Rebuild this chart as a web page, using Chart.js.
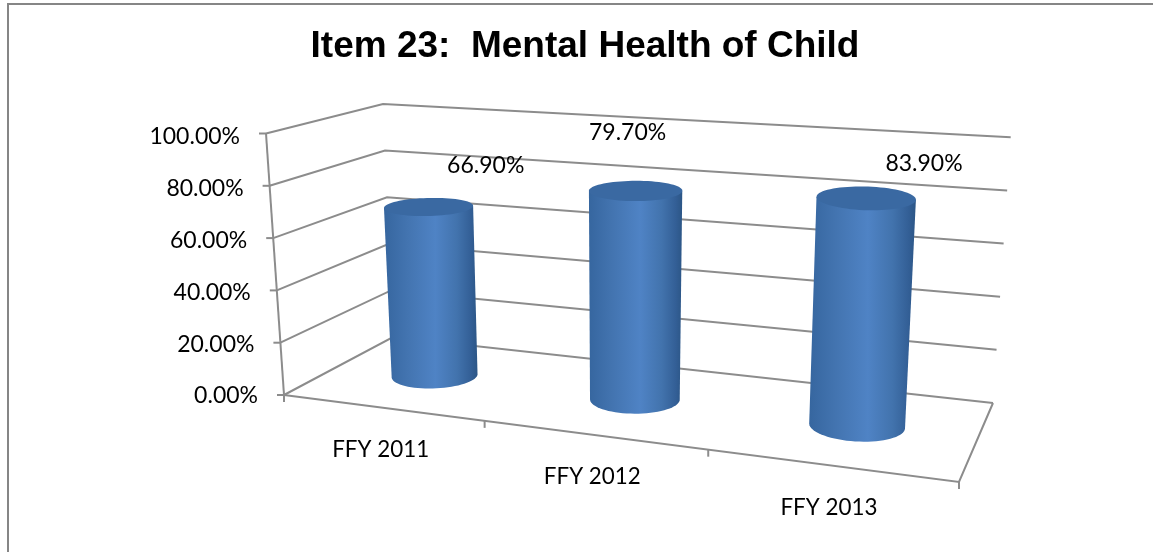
<!DOCTYPE html>
<html>
<head>
<meta charset="utf-8">
<title>Item 23: Mental Health of Child</title>
<script src="https://cdn.jsdelivr.net/npm/chart.js@4/dist/chart.umd.js"></script>
<style>
  html, body { margin: 0; padding: 0; background: #fff; }
  canvas { display: block; }
</style>
</head>
<body>
<canvas id="chart" width="1153" height="552"></canvas>
<script>
const chartTitle = 'Item 23:  Mental Health of Child';
const categories = ['FFY 2011', 'FFY 2012', 'FFY 2013'];
const percentValues = [66.9, 79.7, 83.9];
const axisMax = 100;
const axisStep = 20;

const lineColor = '#8c8c8c';
const valueFont = '23px Lato';
const categoryFont = '22.4px Lato';

// ── Perspective box ───────────────────────────────────────────
// Floor corners on the page, and how far 100% rises at each corner
const FL = [284, 395], FR = [959, 482], BR = [993, 403], BL = [393, 337];
const upFL = [-18, -261.5], upFR = [14, -286], upBR = [17.7, -265.7], upBL = [-10, -233];

const dx1 = [FR[0] - BR[0], FR[1] - BR[1]];
const dx2 = [BL[0] - BR[0], BL[1] - BR[1]];
const sum = [FL[0] - FR[0] + BR[0] - BL[0], FL[1] - FR[1] + BR[1] - BL[1]];
const det = dx1[0] * dx2[1] - dx1[1] * dx2[0];
const g = (sum[0] * dx2[1] - sum[1] * dx2[0]) / det;
const h = (dx1[0] * sum[1] - dx1[1] * sum[0]) / det;

// u: along the category axis, d: depth front to back, v: 0..1 of the value axis
function project(u, d, v) {
  const w = g * u + h * d + 1;
  const out = [0, 1].map(i => {
    const a = FR[i] - FL[i] + g * FR[i];
    const b = BL[i] - FL[i] + h * BL[i];
    const floor = (a * u + b * d + FL[i]) / w;
    const up = (1 - u) * (1 - d) * upFL[i] + u * (1 - d) * upFR[i] + u * d * upBR[i] + (1 - u) * d * upBL[i];
    return floor + up * v;
  });
  return { x: out[0], y: out[1] };
}

function strokePath(ctx, pts) {
  ctx.beginPath();
  pts.forEach((p, i) => i ? ctx.lineTo(p.x, p.y) : ctx.moveTo(p.x, p.y));
  ctx.stroke();
}

function drawCylinder(ctx, u, ru, v) {
  const depth = 0.5, rd = 0.2;
  const ring = (height) => {
    const pts = [];
    for (let i = 0; i < 72; i++) {
      const t = i / 72 * Math.PI * 2;
      pts.push(project(u + ru * Math.cos(t), depth + rd * Math.sin(t), height));
    }
    return pts;
  };
  const bottom = ring(0), top = ring(v);
  const extreme = (pts, dir) => pts.reduce((m, p, i) => (p.x - pts[m].x) * dir > 0 ? i : m, 0);

  const bl = extreme(bottom, -1), br = extreme(bottom, 1);
  const tl = extreme(top, -1), tr = extreme(top, 1);

  ctx.beginPath();
  ctx.moveTo(top[tl].x, top[tl].y);
  ctx.lineTo(bottom[bl].x, bottom[bl].y);
  // front arc of the base: lower screen y-side of the ring
  const n = bottom.length;
  const nextIdx = bottom[(bl + 1) % n].y > bottom[(bl + n - 1) % n].y ? 1 : n - 1;
  for (let i = bl; i !== br; i = (i + nextIdx) % n) ctx.lineTo(bottom[i].x, bottom[i].y);
  ctx.lineTo(bottom[br].x, bottom[br].y);
  ctx.lineTo(top[tr].x, top[tr].y);
  ctx.closePath();

  const left = Math.min(top[tl].x, bottom[bl].x);
  const right = Math.max(top[tr].x, bottom[br].x);
  const body = ctx.createLinearGradient(left, 0, right, 0);
  body.addColorStop(0, '#36669f');
  body.addColorStop(0.25, '#4374b0');
  body.addColorStop(0.55, '#4f83c5');
  body.addColorStop(0.78, '#4273ad');
  body.addColorStop(0.93, '#335f96');
  body.addColorStop(1, '#2c5686');
  ctx.fillStyle = body;
  ctx.fill();

  ctx.beginPath();
  top.forEach((p, i) => i ? ctx.lineTo(p.x, p.y) : ctx.moveTo(p.x, p.y));
  ctx.closePath();
  ctx.fillStyle = '#3a69a2';
  ctx.fill();
}

const labelShift = [[57, -41], [-8, -58], [58, -34]];

const box3d = {
  id: 'box3d',
  beforeDraw(chart) {
    const { ctx, width, height } = chart;
    ctx.save();
    ctx.strokeStyle = '#868686';
    ctx.lineWidth = 2;
    ctx.beginPath();
    ctx.moveTo(8, height);
    ctx.lineTo(8, 4);
    ctx.lineTo(width, 4);
    ctx.stroke();
    ctx.restore();
  },
  beforeDatasetsDraw(chart) {
    const { ctx, scales } = chart;
    ctx.save();
    ctx.strokeStyle = lineColor;
    ctx.lineWidth = 2;
    ctx.lineJoin = 'miter';

    // walls
    scales.y.ticks.forEach(t => {
      const v = t.value / axisMax;
      const a = project(0, 0, v), b = project(0, 1, v), c = project(1, 1, v);
      strokePath(ctx, [a, b, c]);
      strokePath(ctx, [a, { x: a.x - 7, y: a.y }]);
    });
    strokePath(ctx, [project(0, 0, 1), project(0, 0, 0)]);

    // floor front and side
    strokePath(ctx, [project(0, 0, 0), project(1, 0, 0), project(1, 1, 0)]);
    for (let i = 0; i <= categories.length; i++) {
      const p = project(i / categories.length, 0, 0);
      strokePath(ctx, [p, { x: p.x, y: p.y + 7 }]);
    }

    // axis text follows the slanted edge
    ctx.fillStyle = '#000';
    ctx.font = valueFont;
    ctx.textBaseline = 'middle';
    ctx.textAlign = 'right';
    scales.y.ticks.forEach(t => {
      const p = project(0, 0, t.value / axisMax);
      ctx.fillText(t.label, p.x - 26, scales.y.getPixelForValue(t.value));
    });
    ctx.font = categoryFont;
    ctx.textAlign = 'center';
    categories.forEach((c, i) => {
      const p = project((i + 0.5) / categories.length, 0, 0);
      ctx.fillText(c, p.x - 1, p.y + 42);
    });
    ctx.restore();
  },
  afterDatasetsDraw(chart) {
    const { ctx, chartArea, scales } = chart;
    const bars = chart.getDatasetMeta(0).data;
    ctx.save();
    bars.forEach((bar, i) => {
      const u = (bar.x - chartArea.left) / chartArea.width;
      const ru = bar.width / 2 / chartArea.width;
      const v = (scales.y.bottom - bar.y) / (scales.y.bottom - scales.y.top);
      drawCylinder(ctx, u, ru, v);
    });
    ctx.fillStyle = '#000';
    ctx.font = valueFont;
    ctx.textAlign = 'center';
    ctx.textBaseline = 'middle';
    bars.forEach((bar, i) => {
      const u = (bar.x - chartArea.left) / chartArea.width;
      const v = (scales.y.bottom - bar.y) / (scales.y.bottom - scales.y.top);
      const p = project(u, 0.5, v);
      ctx.fillText(percentValues[i].toFixed(2) + '%', p.x + labelShift[i][0], p.y + labelShift[i][1]);
    });
    ctx.restore();
  },
};

new Chart(document.getElementById('chart'), {
  type: 'bar',
  data: {
    labels: categories,
    datasets: [{
      data: percentValues,
      backgroundColor: 'rgba(0,0,0,0)',
      barPercentage: 0.4,
      categoryPercentage: 1,
    }],
  },
  options: {
    responsive: false,
    animation: false,
    layout: { padding: { left: 17, right: 0, top: 0, bottom: 156 } },
    plugins: {
      legend: { display: false },
      tooltip: { enabled: false },
      title: {
        display: true,
        text: chartTitle,
        color: '#000',
        font: { family: '"Liberation Sans"', size: 37, weight: 'bold', lineHeight: 1.2 },
        padding: { top: 25, bottom: 67.6 },
      },
    },
    scales: {
      x: { display: false },
      y: {
        display: false,
        min: 0,
        max: axisMax,
        ticks: { stepSize: axisStep, callback: v => v.toFixed(2) + '%' },
      },
    },
  },
  plugins: [box3d],
});
</script>
</body>
</html>
